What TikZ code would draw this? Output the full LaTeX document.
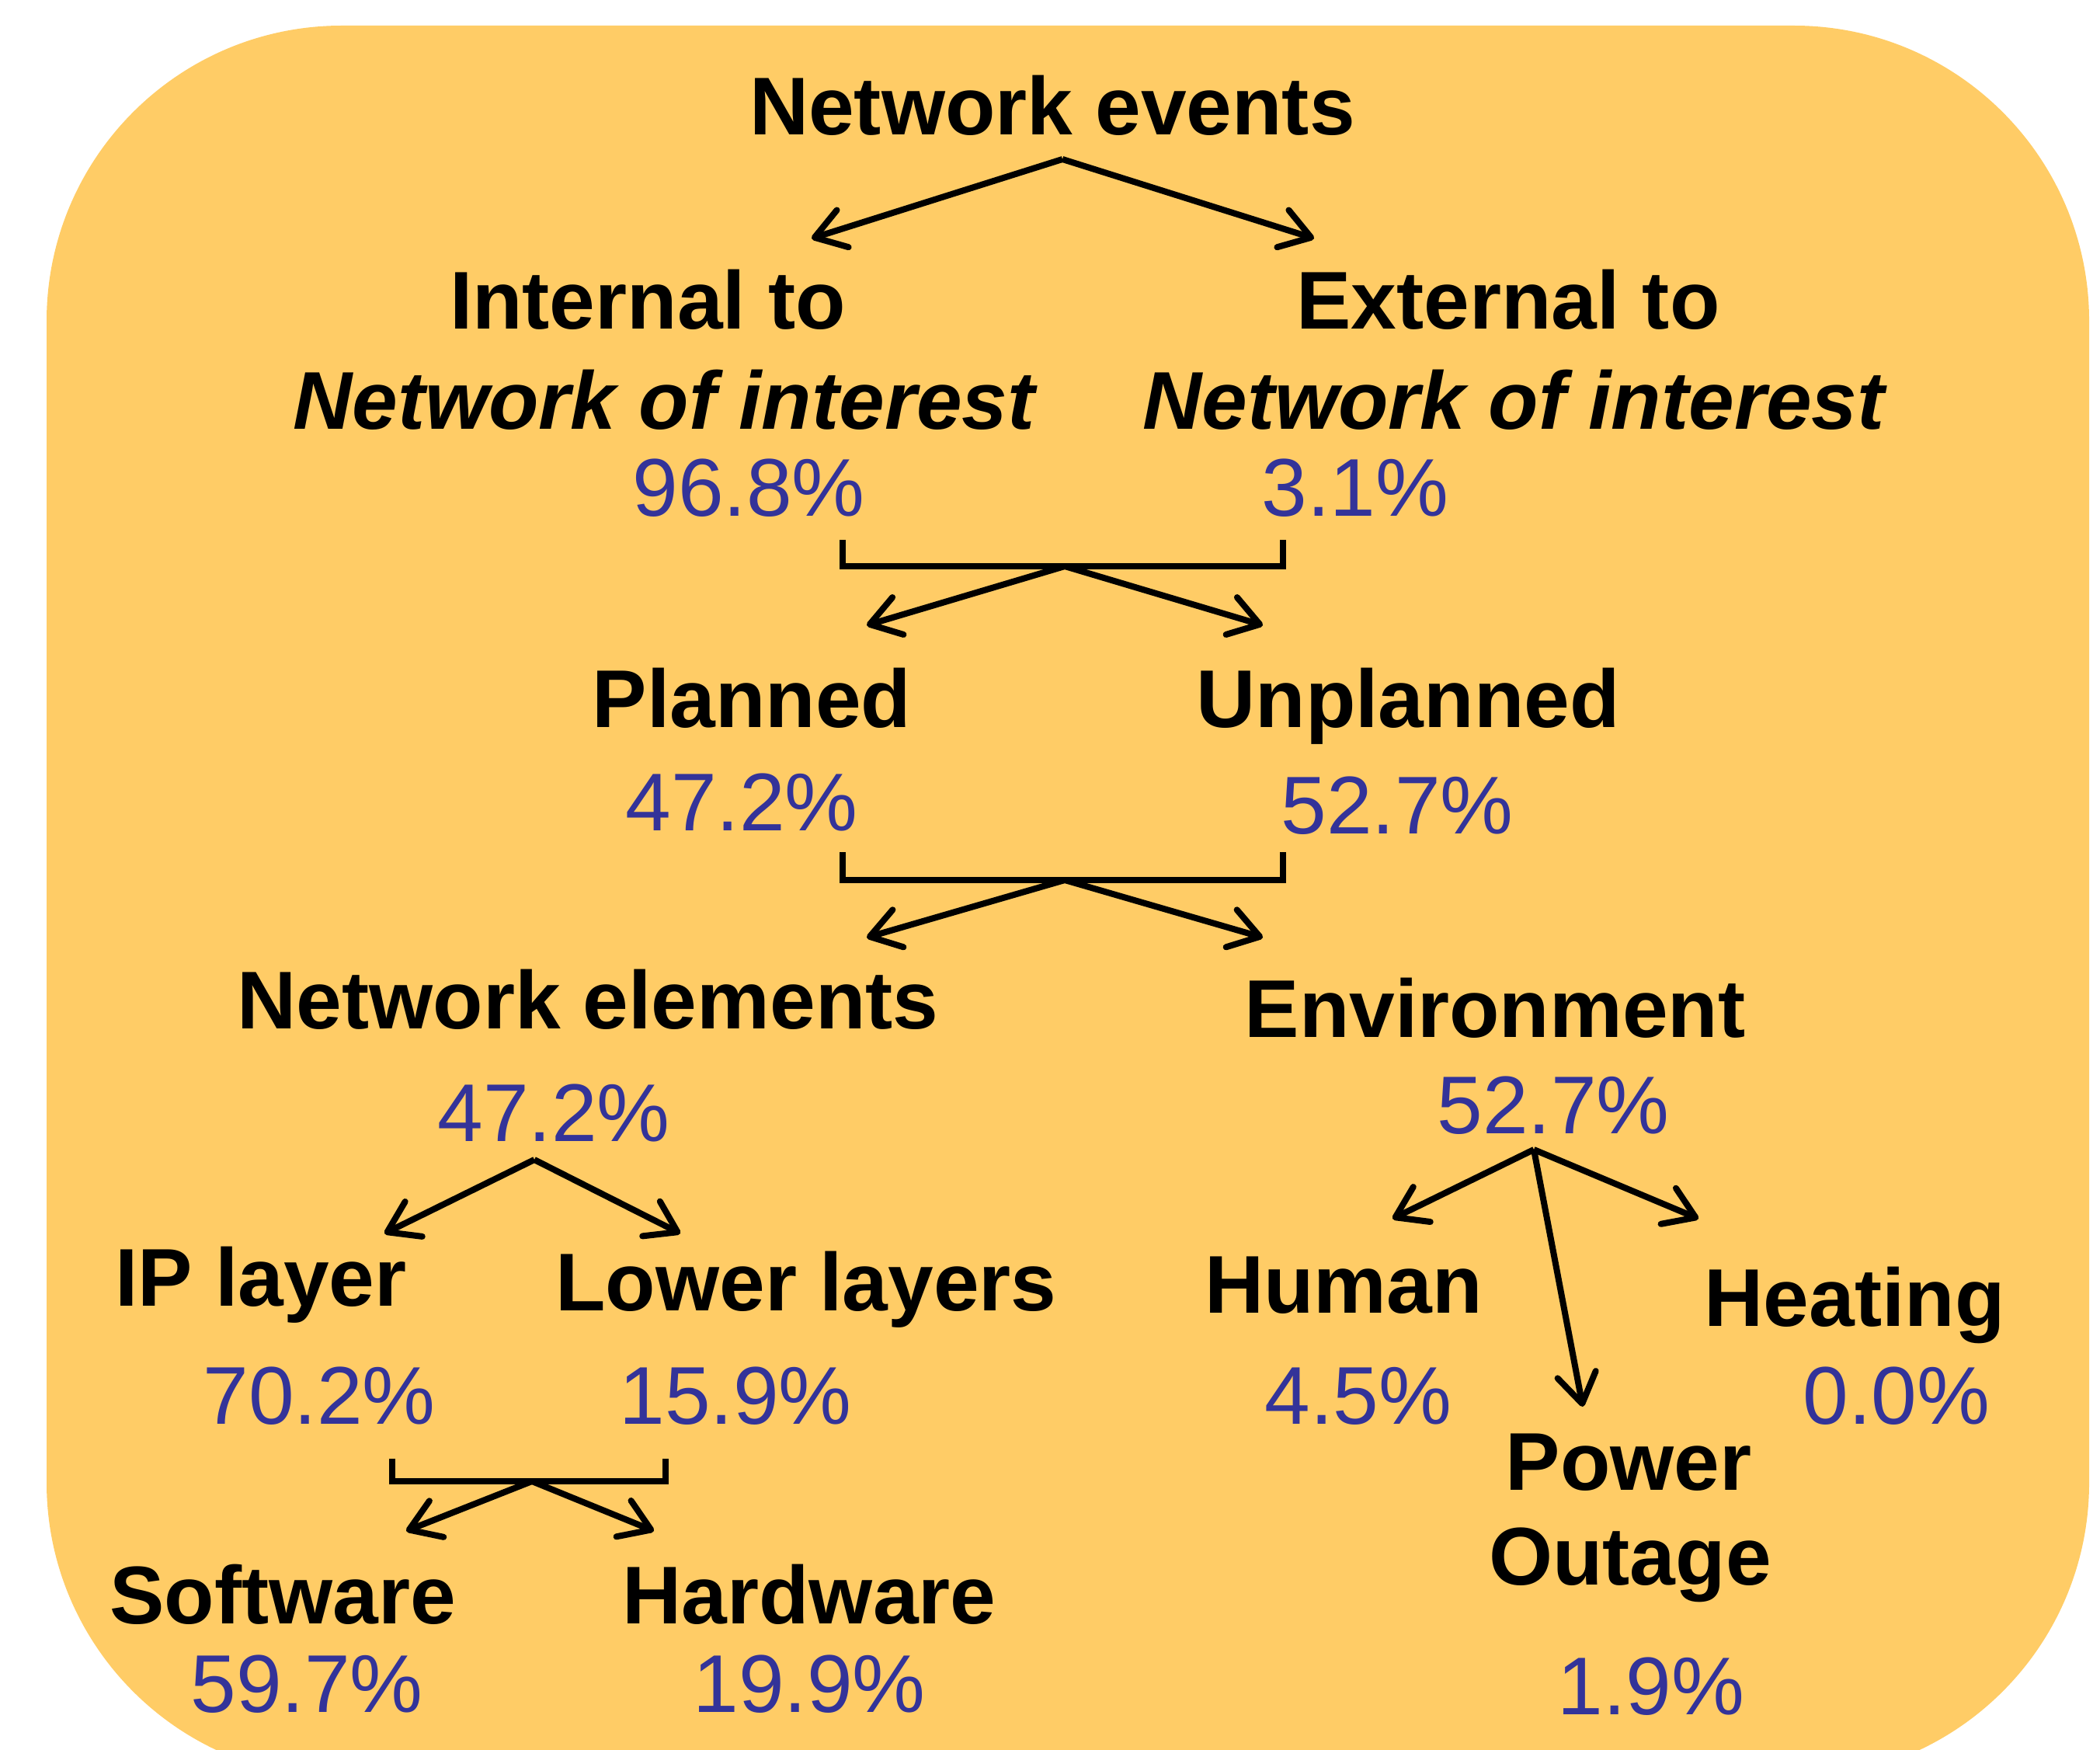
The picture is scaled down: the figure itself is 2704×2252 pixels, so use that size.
\documentclass[tikz,border=0pt]{standalone}
\usepackage{fontspec}
\setmainfont{Liberation Sans}
\usetikzlibrary{arrows.meta}
\definecolor{bgorange}{RGB}{255,204,102}
\definecolor{pctblue}{RGB}{51,51,153}
\tikzset{
	cat/.style={font=\fontsize{30}{36}\selectfont\bfseries, anchor=base, inner sep=0pt},
	cati/.style={cat, font=\fontsize{30}{36}\selectfont\bfseries\itshape},
	pct/.style={font=\fontsize{30}{36}\selectfont, text=pctblue, anchor=base, inner sep=0pt},
	arr/.style={line width=0.8mm, -{Straight Barb[length=3.8mm, width=5mm, round]}},
	brk/.style={line width=0.8mm},
}
\begin{document}
\begin{tikzpicture}[x=0.01cm, y=-0.01cm]
	% Background and frame:
	\useasboundingbox (0, 0) rectangle (2704, 2252);
	\fill[bgorange, rounded corners=3.8cm] (60, 33) rectangle (2690, 2289);
	% Texts:
	\node[cat] (events) at (1355, 174) {Network events};
	\node[cat] (int) at (834, 424) {Internal to};
	\node[cati] (intnoi) at (855, 552) {Network of interest};
	\node[pct] (intp) at (964, 664) {96.8\%};
	\node[cat] (ext) at (1942, 424) {External to};
	\node[cati] (extnoi) at (1949, 552) {Network of interest};
	\node[pct] (extp) at (1745, 664) {3.1\%};
	\node[cat] (plan) at (968, 936) {Planned};
	\node[pct] (planp) at (955, 1069) {47.2\%};
	\node[cat] (unplan) at (1813, 936) {Unplanned};
	\node[pct] (unplanp) at (1799, 1073) {52.7\%};
	\node[cat] (elem) at (757, 1324) {Network elements};
	\node[pct] (elemp) at (713, 1469) {47.2\%};
	\node[cat] (env) at (1925, 1335) {Environment};
	\node[pct] (envp) at (2000, 1459) {52.7\%};
	\node[cat] (ip) at (336, 1681) {IP layer};
	\node[pct] (ipp) at (411, 1833) {70.2\%};
	\node[cat] (lower) at (1038, 1687) {Lower layers};
	\node[pct] (lowerp) at (947, 1833) {15.9\%};
	\node[cat] (human) at (1730, 1690) {Human};
	\node[pct] (humanp) at (1749, 1833) {4.5\%};
	\node[cat] (heat) at (2388, 1707) {Heating};
	\node[pct] (heatp) at (2442, 1833) {0.0\%};
	\node[cat] (power) at (2097, 1918) {Power};
	\node[cat] (outage) at (2099, 2040) {Outage};
	\node[pct] (powerp) at (2126, 2207) {1.9\%};
	\node[cat] (soft) at (364, 2090) {Software};
	\node[pct] (softp) at (395, 2204) {59.7\%};
	\node[cat] (hard) at (1042, 2090) {Hardware};
	\node[pct] (hardp) at (1042, 2204) {19.9\%};
	% Split points, brackets and arrows:
	\coordinate (sp1) at (1368, 205);
	\coordinate (to1a) at (1045, 307);
	\coordinate (to1b) at (1692, 307);
	\draw[arr] (sp1) -- (to1a);
	\draw[arr] (sp1) -- (to1b);
	\coordinate (br2a) at (1085, 695);
	\coordinate (br2b) at (1652, 695);
	\coordinate (sp2) at (1371, 729);
	\coordinate (to2a) at (1116, 805);
	\coordinate (to2b) at (1626, 805);
	\draw[brk] (br2a) |- (sp2) -| (br2b);
	\draw[arr] (sp2) -- (to2a);
	\draw[arr] (sp2) -- (to2b);
	\coordinate (br3a) at (1085, 1097);
	\coordinate (br3b) at (1652, 1097);
	\coordinate (sp3) at (1371, 1133);
	\coordinate (to3a) at (1116, 1207);
	\coordinate (to3b) at (1626, 1207);
	\draw[brk] (br3a) |- (sp3) -| (br3b);
	\draw[arr] (sp3) -- (to3a);
	\draw[arr] (sp3) -- (to3b);
	\coordinate (sp4) at (688, 1493);
	\coordinate (to4a) at (495, 1588);
	\coordinate (to4b) at (876, 1588);
	\draw[arr] (sp4) -- (to4a);
	\draw[arr] (sp4) -- (to4b);
	\coordinate (sp5) at (1975, 1480);
	\coordinate (to5a) at (1793, 1569);
	\coordinate (to5b) at (2038, 1811);
	\coordinate (to5c) at (2187, 1569);
	\draw[arr] (sp5) -- (to5a);
	\draw[arr] (sp5) -- (to5b);
	\draw[arr] (sp5) -- (to5c);
	\coordinate (br6a) at (505, 1878);
	\coordinate (br6b) at (857, 1878);
	\coordinate (sp6) at (685, 1907);
	\coordinate (to6a) at (523, 1971);
	\coordinate (to6b) at (842, 1971);
	\draw[brk] (br6a) |- (sp6) -| (br6b);
	\draw[arr] (sp6) -- (to6a);
	\draw[arr] (sp6) -- (to6b);
\end{tikzpicture}
\end{document}
